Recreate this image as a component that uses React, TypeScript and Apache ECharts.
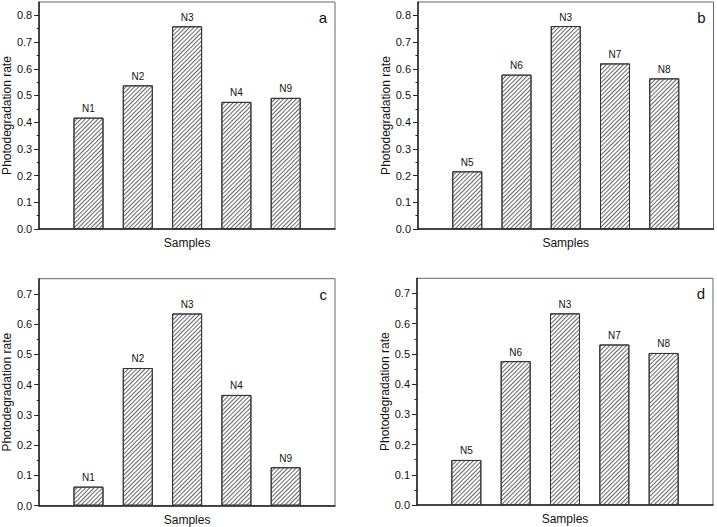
import React, { useEffect, useRef } from "react";
import * as echarts from "echarts";

// ---- data ----
const namesA = ["N1", "N2", "N3", "N4", "N9"];
const valuesA = [0.417, 0.538, 0.759, 0.476, 0.491];
const namesB = ["N5", "N6", "N3", "N7", "N8"];
const valuesB = [0.216, 0.578, 0.76, 0.62, 0.564];
const namesC = ["N1", "N2", "N3", "N4", "N9"];
const valuesC = [0.063, 0.455, 0.635, 0.366, 0.127];
const namesD = ["N5", "N6", "N3", "N7", "N8"];
const valuesD = [0.149, 0.476, 0.634, 0.531, 0.503];

const ticksTop = [0, 0.1, 0.2, 0.3, 0.4, 0.5, 0.6, 0.7, 0.8];
const minorTop = [0.05, 0.15, 0.25, 0.35, 0.45, 0.55, 0.65, 0.75];
const ticksBottom = [0, 0.1, 0.2, 0.3, 0.4, 0.5, 0.6, 0.7];
const minorBottom = [0.05, 0.15, 0.25, 0.35, 0.45, 0.55, 0.65];
const maxTop = 0.85;
const maxBottom = 0.75;
const panelLetters = ["a", "b", "c", "d"];
const xTitle = "Samples";
const yTitle = "Photodegradation rate";

const FONT = "'Liberation Sans', Arial, sans-serif";

const panels = [
  { names: namesA, values: valuesA, ticks: ticksTop, minor: minorTop, max: maxTop, left: 37, top: 2, width: 298, height: 227 },
  { names: namesB, values: valuesB, ticks: ticksTop, minor: minorTop, max: maxTop, left: 418, top: 2, width: 295.5, height: 227 },
  { names: namesC, values: valuesC, ticks: ticksBottom, minor: minorBottom, max: maxBottom, left: 38, top: 278.7, width: 297, height: 227 },
  { names: namesD, values: valuesD, ticks: ticksBottom, minor: minorBottom, max: maxBottom, left: 417, top: 278.3, width: 296, height: 226.7 },
];

export default function App() {
  const ref = useRef<HTMLDivElement>(null);
  useEffect(() => {
    if (!ref.current) return;
    const chart = echarts.init(ref.current, null, { renderer: "svg" });
    const grid: any[] = [];
    const xAxis: any[] = [];
    const yAxis: any[] = [];
    const series: any[] = [];
    const graphic: any[] = [];
    panels.forEach((p, i) => {
      grid.push({
        left: p.left,
        top: p.top,
        width: p.width,
        height: p.height,
        show: true,
        borderColor: "#666",
        borderWidth: 1,
        backgroundColor: "transparent",
      });
      xAxis.push({
        type: "value",
        gridIndex: i,
        min: 0,
        max: 6,
        axisLine: { show: true, lineStyle: { color: "#222", width: 1.5 } },
        axisTick: { show: false },
        axisLabel: { show: false },
        splitLine: { show: false },
        name: xTitle,
        nameLocation: "middle",
        nameGap: 8,
        nameTextStyle: { fontFamily: FONT, fontSize: 12, color: "#111" },
      });
      yAxis.push({
        type: "value",
        gridIndex: i,
        min: 0,
        max: p.max,
        position: "left",
        axisLine: { show: true, lineStyle: { color: "#222", width: 1.5 } },
        axisTick: { show: true, length: 5, customValues: p.ticks, lineStyle: { color: "#222", width: 1 } },
        axisLabel: {
          customValues: p.ticks,
          formatter: (v: number) => v.toFixed(1),
          margin: 7,
          fontFamily: FONT,
          fontSize: 11,
          color: "#111",
        },
        splitLine: { show: false },
        name: yTitle,
        nameLocation: "middle",
        nameGap: 23,
        nameTextStyle: { fontFamily: FONT, fontSize: 12, color: "#111" },
      });
      yAxis.push({
        type: "value",
        gridIndex: i,
        min: 0,
        max: p.max,
        position: "left",
        axisLine: { show: false },
        axisTick: { show: true, length: 2.5, customValues: p.minor, lineStyle: { color: "#222", width: 1 } },
        axisLabel: { show: false },
        splitLine: { show: false },
      });
      series.push({
        type: "bar",
        xAxisIndex: i,
        yAxisIndex: i * 2,
        barWidth: 30,
        data: p.values.map((v, k) => [k + 1, v]),
        itemStyle: {
          color: "#ffffff",
          borderColor: "#333",
          borderWidth: 1,
          decal: {
            symbol: "rect",
            symbolSize: 1,
            dashArrayX: [1, 0],
            dashArrayY: [1, 2],
            rotation: -Math.PI / 4,
            color: "#666",
            backgroundColor: "#ffffff",
          },
        },
        label: {
          show: true,
          position: "top",
          distance: 4,
          formatter: (pp: any) => p.names[pp.dataIndex],
          fontFamily: FONT,
          fontSize: 10,
          color: "#111",
        },
      });
      graphic.push({
        type: "text",
        right: 717 - (p.left + p.width) + 8,
        top: p.top + 8,
        style: { text: panelLetters[i], fontFamily: FONT, fontSize: 15, fill: "#111" },
      });
    });
    chart.setOption({
      animation: false,
      backgroundColor: "#ffffff",
      grid,
      xAxis,
      yAxis,
      series,
      graphic,
    });
    return () => chart.dispose();
  }, []);
  return (
    <div
      ref={ref}
      style={{ position: "fixed", left: 0, top: 0, width: 717, height: 527 }}
    />
  );
}
